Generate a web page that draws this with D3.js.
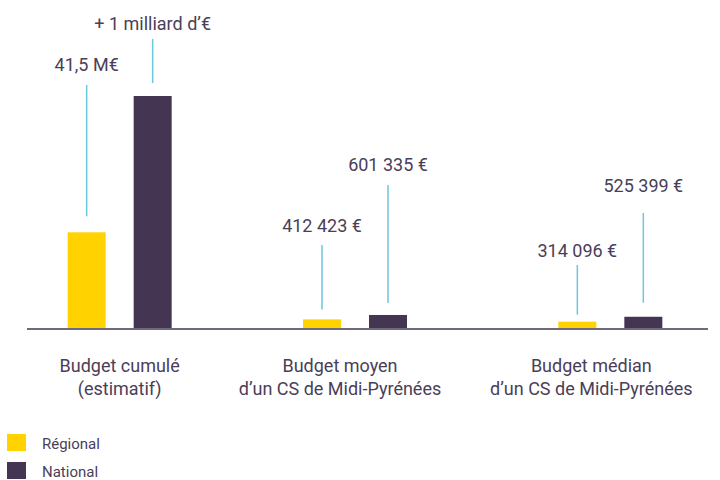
<!DOCTYPE html>
<html>
<head>
<meta charset="utf-8">
<script src="https://cdn.jsdelivr.net/npm/d3@7"></script>
<style>
  body { margin: 0; background: #fff; }
  text { font-family: Roboto, "Liberation Sans", sans-serif; fill: #4a3e58; }
</style>
</head>
<body>
<div id="vis"></div>
<script>
const WIDTH = 720;
const HEIGHT = 480;

// donnees
const categories = ["cumule", "moyen", "median"];
const categoryLines = [
  ["Budget cumulé", "(estimatif)"],
  ["Budget moyen", "d’un CS de Midi-Pyrénées"],
  ["Budget médian", "d’un CS de Midi-Pyrénées"]
];
const series = ["Régional", "National"];
const regional = [41500000, 412423, 314096];
const national = [1000000000, 601335, 525399];
const regionalLabels = ["41,5 M€", "412 423 €", "314 096 €"];
const nationalLabels = ["+ 1 milliard d’€", "601 335 €", "525 399 €"];
// le budget cumule est dessine a 1/10, le milliard est tronque
const drawRatio = [0.1, 1, 1];

// mise en page des annotations (px)
const labelY = { "Régional": [71, 232, 257], "National": [30, 171, 192] };
const lineTop = { "Régional": [85, 245, 265], "National": [39, 185, 213] };
const lineGap = { "Régional": [16, 10, 7], "National": [13, 12, 14] };
const groupDx = [0, -10, 0];
const categoryDx = [0, -25, -19];

const colors = { "Régional": "#ffd200", "National": "#443553" };

const SVG = d3.select("#vis").append("svg")
  .attr("width", WIDTH).attr("height", HEIGHT);

const baseY = 329;

const x = d3.scaleBand()
  .domain(categories)
  .range([-3, 733]);

const xInner = d3.scalePoint()
  .domain(series)
  .range([-33, 33]);

const y = d3.scaleLinear()
  .domain([0, 10000000])
  .range([baseY, 96])
  .clamp(true);

const BAR_W = 38;

const datos = [];
categories.forEach((c, i) => {
  datos.push({ cat: c, i: i, serie: "Régional", valeur: regional[i] * drawRatio[i], label: regionalLabels[i] });
  datos.push({ cat: c, i: i, serie: "National", valeur: national[i] * drawRatio[i], label: nationalLabels[i] });
});

const cx = d => x(d.cat) + x.bandwidth() / 2 + groupDx[d.i] + xInner(d.serie);

// barres
SVG.selectAll(".barre")
  .data(datos)
  .join("rect")
  .attr("class", "barre")
  .attr("x", d => cx(d) - BAR_W / 2)
  .attr("y", d => y(d.valeur))
  .attr("width", BAR_W)
  .attr("height", d => baseY - y(d.valeur))
  .attr("fill", d => colors[d.serie]);

// ligne de base
SVG.append("line")
  .attr("x1", 27).attr("x2", 708)
  .attr("y1", baseY).attr("y2", baseY)
  .attr("stroke", "#6f6a7b")
  .attr("stroke-width", 2);

// traits de rappel
SVG.selectAll(".rappel")
  .data(datos)
  .join("line")
  .attr("class", "rappel")
  .attr("x1", d => cx(d)).attr("x2", d => cx(d))
  .attr("y1", d => lineTop[d.serie][d.i])
  .attr("y2", d => y(d.valeur) - lineGap[d.serie][d.i])
  .attr("stroke", "#6cc6dd")
  .attr("stroke-width", 1.5);

// etiquettes de valeur
SVG.selectAll(".valeur")
  .data(datos)
  .join("text")
  .attr("class", "valeur")
  .attr("x", d => cx(d))
  .attr("y", d => labelY[d.serie][d.i])
  .attr("text-anchor", "middle")
  .style("font-size", "18px")
  .text(d => d.label);

// etiquettes de categorie
const cat = SVG.selectAll(".categorie")
  .data(categories)
  .join("text")
  .attr("class", "categorie")
  .attr("text-anchor", "middle")
  .style("font-size", "18px");

cat.selectAll("tspan")
  .data((d, i) => categoryLines[i].map(t => ({ t: t, i: i, c: d })))
  .join("tspan")
  .attr("x", d => x(d.c) + x.bandwidth() / 2 + categoryDx[d.i])
  .attr("y", (d, j) => 372 + j * 23)
  .text(d => d.t);

// legende
const leg = SVG.selectAll(".legende")
  .data(series)
  .join("g")
  .attr("class", "legende")
  .attr("transform", (d, i) => `translate(7, ${434 + i * 28})`);

leg.append("rect")
  .attr("width", 19).attr("height", 17)
  .attr("fill", d => colors[d]);

leg.append("text")
  .attr("x", 35).attr("y", 15)
  .style("font-size", "15px")
  .text(d => d);
</script>
</body>
</html>
